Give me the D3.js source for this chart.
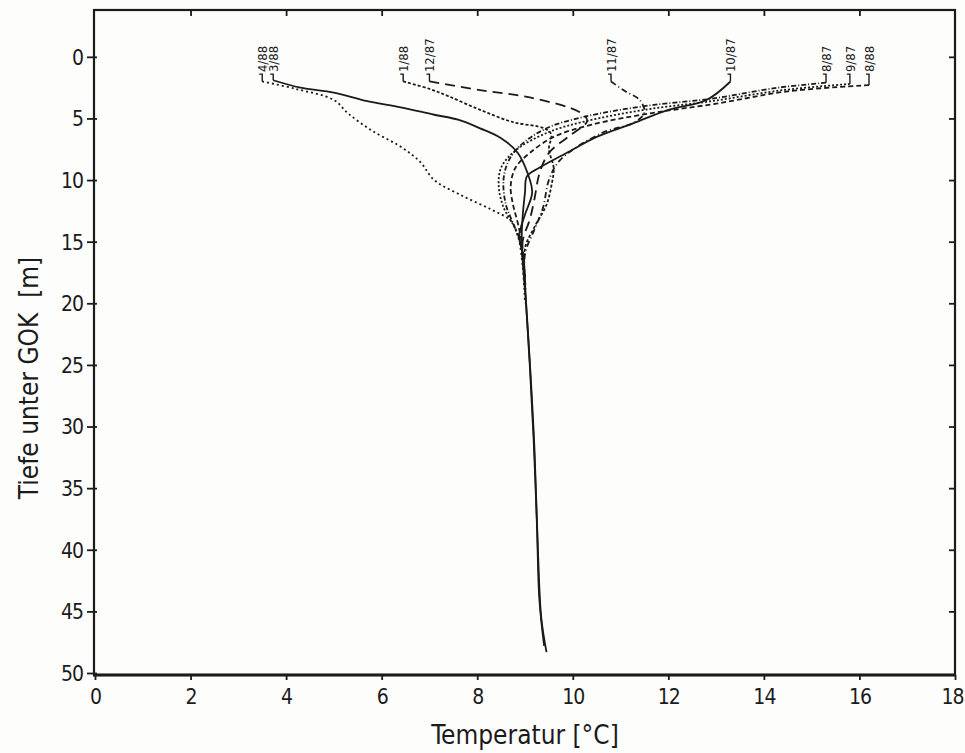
<!DOCTYPE html>
<html>
<head>
<meta charset="utf-8">
<script src="https://cdn.jsdelivr.net/npm/d3@7/dist/d3.min.js"></script>
<style>
  html, body { margin: 0; padding: 0; background: #fdfdfc; }
  svg { display: block; }
  text { font-family: "DejaVu Sans Condensed", "Liberation Sans Narrow", "Roboto", sans-serif; fill: #1b1b1b; }
</style>
</head>
<body>
<svg id="chart" width="965" height="753"></svg>
<script>
// ---- data: [temperature °C, depth m] ----
const xTicks = [0, 2, 4, 6, 8, 10, 12, 14, 16, 18];
const yTicks = [0, 5, 10, 15, 20, 25, 30, 35, 40, 45, 50];

const curve_4_88 = [[3.5,2.0],[4.2,2.6],[5.0,3.5],[5.3,4.6],[5.8,6.0],[6.4,7.3],[6.8,8.5],[7.1,10.0],[7.7,11.3],[8.3,12.4],[8.7,13.3],[8.85,14.5],[8.95,17],[9.0,20]];
const curve_3_88 = [[3.73,1.9],[4.3,2.5],[5.0,2.9],[5.7,3.6],[6.4,4.1],[7.1,4.7],[7.6,5.1],[8.06,5.8],[8.5,6.6],[8.85,7.8],[9.05,9.4],[9.15,11],[9.0,12.8],[8.88,14.5],[8.95,16],[9.04,21],[9.12,26],[9.2,32],[9.27,40],[9.34,45.5],[9.45,48.3]];
const curve_1_88 = [[6.45,2.0],[7.0,2.6],[7.4,3.2],[8.06,4.3],[8.75,5.3],[9.4,5.8],[9.55,6.3],[9.5,7.5],[9.6,9],[9.55,10.5],[9.45,12],[9.2,13.8],[9.0,15.5],[9.0,18]];
const curve_12_87 = [[7.0,2.0],[8.06,2.7],[9.1,3.3],[10.15,4.5],[10.3,5.2],[9.9,6.5],[9.5,7.8],[9.3,9.5],[9.2,11.5],[9.1,13.2],[8.95,15],[9.0,18]];
const curve_11_87 = [[10.8,2.0],[11.1,2.8],[11.4,3.5],[11.5,4.5],[11.3,5.3],[10.6,6.2],[9.73,8.4],[9.5,10],[9.38,12.2],[9.2,14],[9.0,16],[9.02,19]];
const curve_10_87 = [[13.3,2.0],[12.8,3.5],[12.0,4.3],[11.26,5.4],[10.5,6.5],[9.87,7.8],[9.3,9.0],[9.04,9.7],[9.0,11],[8.95,13],[8.93,15],[9.02,20],[9.1,25],[9.18,31],[9.25,38],[9.3,44],[9.4,47.8]];
const curve_8_87 = [[15.3,2.1],[14.3,2.5],[12.9,3.4],[11.5,4.0],[10.2,4.9],[9.45,5.8],[8.9,7.2],[8.65,8.5],[8.55,10],[8.6,12],[8.75,13.5],[8.9,15],[9.0,18]];
const curve_9_87 = [[15.8,2.2],[14.4,2.7],[12.9,3.6],[11.5,4.3],[10.3,5.2],[9.5,6.1],[8.8,7.6],[8.5,9],[8.45,10.5],[8.55,12.2],[8.8,14],[8.95,16],[9.0,19]];
const curve_8_88 = [[16.2,2.3],[14.5,2.8],[13.0,3.8],[11.6,4.6],[10.4,5.5],[9.6,6.5],[9.1,7.8],[8.8,9],[8.7,10.5],[8.75,12],[8.85,13.5],[8.95,15.5],[9.0,19]];

const seriesLabels = ["4/88", "3/88", "1/88", "12/87", "11/87", "10/87", "8/87", "9/87", "8/88"];
const seriesData = [curve_4_88, curve_3_88, curve_1_88, curve_12_87, curve_11_87, curve_10_87, curve_8_87, curve_9_87, curve_8_88];
const seriesDash = ["2,3", null, "3,2", "10,6", "6,3,1,3", null, "5,2,1,2", "2,2", "5,3"];

// ---- layout ----
const svg = d3.select("#chart");
const x = d3.scaleLinear().domain([0, 18]).range([95, 955]);
const y = d3.scaleLinear().domain([-3.8, 50]).range([10, 673]);
const ink = "#1b1b1b";

// frame
svg.append("rect")
  .attr("x", x(0) - 1).attr("y", y(-3.8))
  .attr("width", x(18) - x(0) + 1).attr("height", y(50) - y(-3.8) + 2)
  .attr("fill", "none").attr("stroke", ink).attr("stroke-width", 2.2);
svg.append("line")
  .attr("x1", x(0) - 2).attr("x2", x(18) + 1)
  .attr("y1", y(50) + 2).attr("y2", y(50) + 2)
  .attr("stroke", ink).attr("stroke-width", 3);

// axes
const fmt = d3.format("d");
const gBottom = svg.append("g").attr("transform", `translate(0,${y(50) + 2})`)
  .call(d3.axisBottom(x).tickValues(xTicks).tickFormat(fmt).tickSize(5).tickPadding(9));
const gLeft = svg.append("g").attr("transform", `translate(${x(0) - 1},0)`)
  .call(d3.axisLeft(y).tickValues(yTicks).tickFormat(fmt).tickSize(7).tickPadding(4));
const gTop = svg.append("g").attr("transform", `translate(0,${y(-3.8)})`)
  .call(d3.axisBottom(x).tickValues(xTicks.slice(1, -1)).tickFormat("").tickSize(6));
const gRight = svg.append("g").attr("transform", `translate(${x(18)},0)`)
  .call(d3.axisLeft(y).tickValues(yTicks.slice(0, -1)).tickFormat("").tickSize(6));

[gBottom, gLeft, gTop, gRight].forEach(g => {
  g.select(".domain").remove();
  g.selectAll(".tick line").attr("stroke", ink).attr("stroke-width", 1.8);
  g.selectAll(".tick text").attr("font-size", 21).style("fill", ink)
    .style("letter-spacing", "-1px");
});
gLeft.selectAll(".tick line").attr("x2", 3).attr("x1", -7);
gLeft.selectAll(".tick text").attr("dy", "0.35em");
gBottom.selectAll(".tick text").filter(d => d === 18).attr("text-anchor", "end").attr("dx", "8");

// axis titles
svg.append("text")
  .attr("x", 525).attr("y", 744)
  .attr("text-anchor", "middle").attr("font-size", 26)
  .text("Temperatur [°C]");
svg.append("text")
  .attr("transform", "translate(38,378) rotate(-90)")
  .attr("text-anchor", "middle").attr("font-size", 26)
  .attr("xml:space", "preserve")
  .text("Tiefe unter GOK  [m]");

// curves
const line = d3.line()
  .x(d => x(d[0])).y(d => y(d[1]))
  .curve(d3.curveCatmullRom.alpha(0.5));

svg.append("g").selectAll("path")
  .data(seriesData)
  .join("path")
  .attr("d", line)
  .attr("fill", "none")
  .attr("stroke", ink)
  .attr("stroke-width", 1.8)
  .attr("stroke-linejoin", "round")
  .attr("stroke-dasharray", (d, i) => seriesDash[i]);

// labels with small leaders
const labelBottom = y(1.4);
const lg = svg.append("g");
seriesData.forEach((d, i) => {
  const x0 = x(d[0][0]), y0 = y(d[0][1]);
  lg.append("path")
    .attr("d", `M${x0 - 3},${labelBottom} L${x0},${labelBottom} L${x0},${y0}`)
    .attr("fill", "none").attr("stroke", ink).attr("stroke-width", 1.4);
  lg.append("text")
    .attr("transform", `translate(${x0 + 5},${labelBottom - 2}) rotate(-90)`)
    .attr("font-size", 13)
    .text(seriesLabels[i]);
});
</script>
</body>
</html>
